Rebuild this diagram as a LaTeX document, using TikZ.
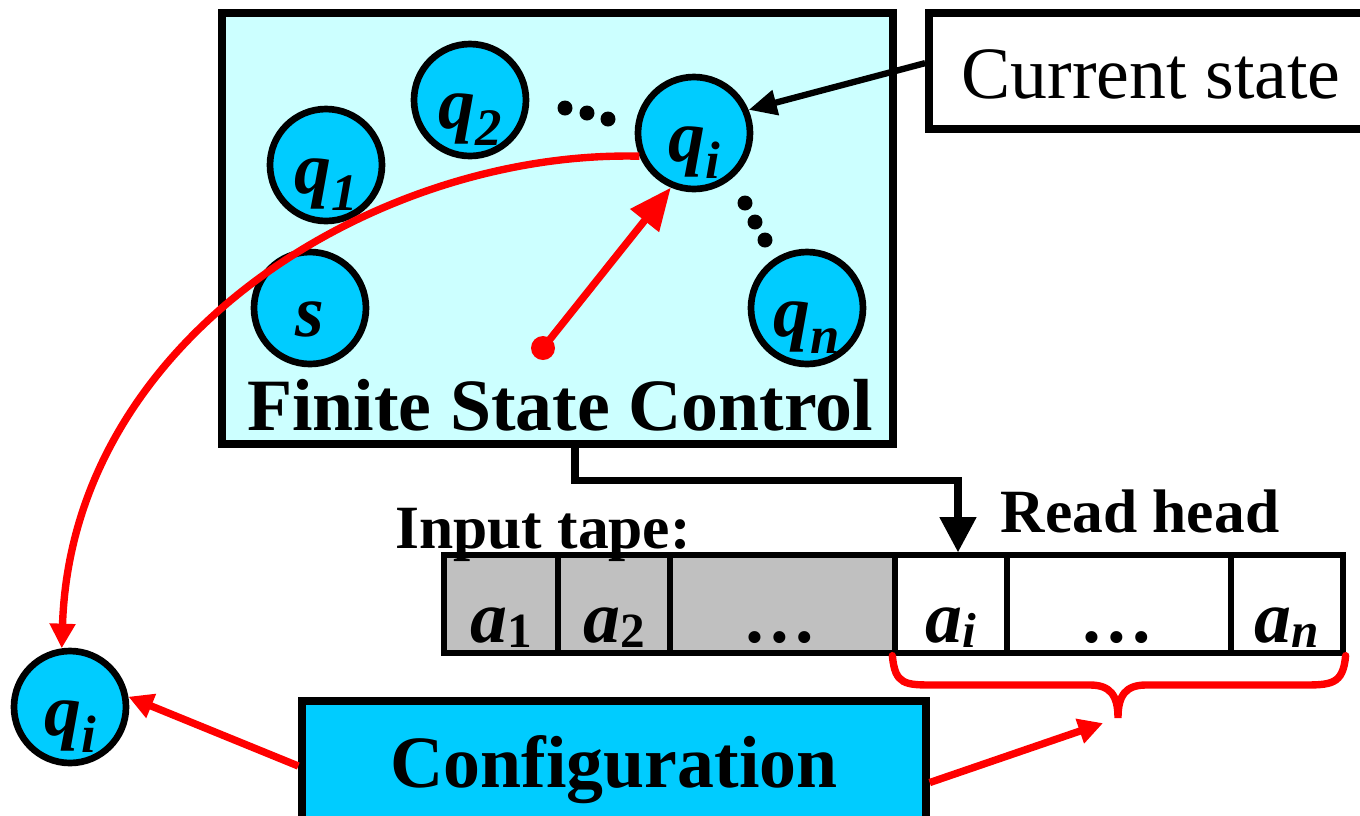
\documentclass[tikz,border=0pt]{standalone}
\usepackage{fontspec}
\setmainfont{Liberation Serif}
\usepackage{tikz}
\usetikzlibrary{arrows.meta}
\definecolor{fscbg}{HTML}{CCFFFF}
\definecolor{stcyan}{HTML}{00CCFF}
\definecolor{tapegrey}{HTML}{C0C0C0}
\tikzstyle{state}=[circle, draw=black, line width=1.9pt, fill=stcyan, minimum size=1.12cm, inner sep=0pt, text height=.56cm, text depth=0pt, font=\fontsize{21}{21}\selectfont\bfseries\itshape]
\tikzstyle{cell}=[rectangle, draw=black, line width=1.5pt, minimum height=.98cm, inner sep=0pt, text height=.76cm, text depth=0pt, font=\fontsize{21}{21}\selectfont\bfseries\itshape]
\tikzstyle{redline}=[draw=red, line width=2.1pt]
\tikzstyle{bigtext}=[anchor=base, inner sep=0pt, font=\fontsize{21}{21}\selectfont\bfseries]
\tikzstyle{midtext}=[anchor=base, inner sep=0pt, font=\fontsize{17.5}{17.5}\selectfont\bfseries]
\newcommand{\stsub}[2]{#1\raisebox{-5pt}{\fontsize{15}{15}\selectfont #2}}
\newcommand{\tpsub}[2]{#1\raisebox{-1.5pt}{\fontsize{14}{14}\selectfont #2}}

\begin{document}
\begin{tikzpicture}[x=.1mm, y=-.1mm]
      \useasboundingbox (0,0) rectangle (1360,815);

      \node[draw=black, line width=2.3pt, fill=fscbg, minimum width=6.71cm,
          minimum height=4.31cm, inner sep=0pt] (fsc) at (557.5,228.5) {};
      \node[bigtext] (fsclabel) at (560,430) {Finite State Control};

      \node[state] (s)  at (310,308) {s};
      \node[state] (q1) at (326,165) {\stsub{q}{1}};
      \node[state] (q2) at (470,100) {\stsub{q}{2}};
      \node[state] (qi) at (694,133) {\stsub{q}{i}};
      \node[state] (qn) at (807,308) {\stsub{q}{n}};
      \foreach \x/\y in {565/108, 587/113, 608/119, 745/203, 755/222, 765/240}
        \fill (\x,\y) circle (.75mm);

      \node[draw=black, line width=2.2pt, fill=white, minimum width=4.44cm,
          minimum height=1.16cm, inner sep=0pt, text height=.54cm, text depth=0pt,
          font=\fontsize{21}{21}\selectfont] (cur) at (1151,71) {Current state};
      \draw[line width=1.8pt, -{Triangle[length=8pt, width=7pt]}] (cur.178) -- (qi.23);

      \node[circle, fill=red, minimum size=.24cm, inner sep=0pt] (ptr) at (543,348) {};
      \draw[redline, -{Triangle[length=12pt, width=10pt]}] (ptr.center) -- (qi.-113);

      \foreach \l/\r/\f/\t [count=\k] in {444/558/tapegrey/{\tpsub{a}{\upshape 1}},
          558/670/tapegrey/{\tpsub{a}{\upshape 2}}, 670/895/tapegrey/{\ldots},
          895/1007/white/{\tpsub{a}{i}}, 1007/1231/white/{\ldots},
          1231/1343/white/{\tpsub{a}{n}}}
        \node[cell, fill=\f, minimum width={(\r-\l)*0.1mm}] (c\k) at ({(\l+\r)/2},604) {\t};
      \node[midtext] (tapelabel) at (543,548) {Input tape:};
      \node[midtext] (headlabel) at (1140,532) {Read head};
      \draw[line width=2pt, -{Triangle[length=10pt, width=10pt]}]
          ([xshift=1.75mm]fsc.south) -- ++(0,32) -| ([xshift=.7mm]c4.north);

      \node[state] (qc) at (70,707) {\stsub{q}{i}};
      \node[draw=black, line width=2.1pt, fill=stcyan, minimum width=6.24cm,
          minimum height=1.3cm, inner sep=0pt, text height=.42cm, text depth=0pt,
          font=\fontsize{21}{21}\selectfont\bfseries] (conf) at (614,766) {Configuration};

      \draw[redline, -{Triangle[length=7pt, width=7pt]}]
          (qi.203) .. controls (380,150) and (72,335) .. (qc.98);
      \draw[redline, -{Triangle[length=7pt, width=7pt]}] (conf.west) -- (qc.10);

      \coordinate (brtip) at (1118,718);
      \draw[redline, line cap=round] (c4.south west) .. controls (895,685) and (905,685) .. (935,685)
          -- (1090,685) .. controls (1110,685) and (1118,695) .. (brtip)
          .. controls (1118,695) and (1126,685) .. (1146,685)
          -- (1301,685) .. controls (1331,685) and (1343,685) .. (c6.south east);
      \draw[redline, shorten >=4.5pt, -{Triangle[length=7pt, width=7pt]}] (conf.-3) -- (brtip);
\end{tikzpicture}
\end{document}
